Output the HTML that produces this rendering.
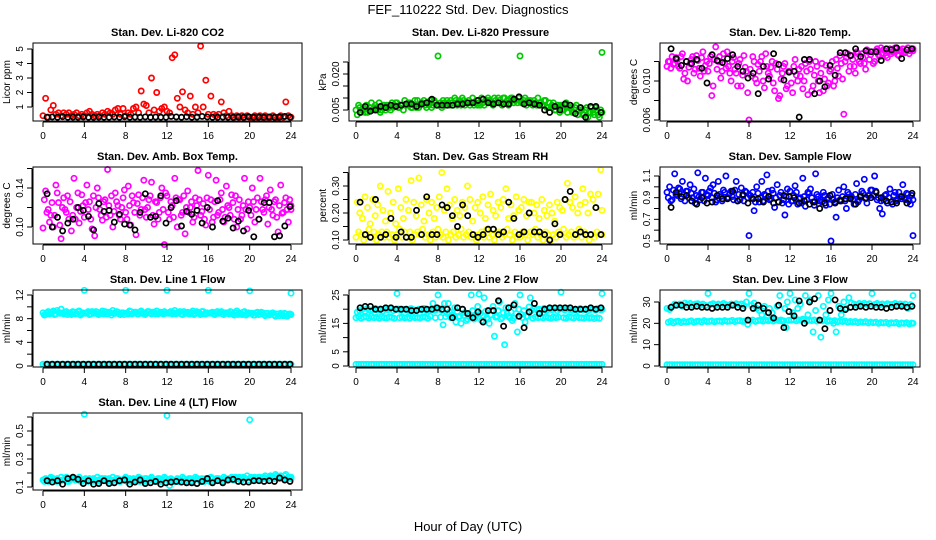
<!DOCTYPE html>
<html><head><meta charset="utf-8"><title>FEF_110222 Std. Dev. Diagnostics</title>
<style>
html,body{margin:0;padding:0;background:#fff;}
svg{display:block;font-family:"Liberation Sans",Arial,sans-serif;}
</style></head>
<body>
<svg id="chart" width="936" height="540" viewBox="0 0 936 540" xmlns="http://www.w3.org/2000/svg">
<rect x="0" y="0" width="936" height="540" fill="#fff"/>
<text x="468" y="14" font-size="13" text-anchor="middle">FEF_110222  Std. Dev. Diagnostics</text>
<text x="468" y="531" font-size="13" text-anchor="middle">Hour of Day (UTC)</text>
</svg>
<script>
// ---- data ----
const hourTicks = [0,4,8,12,16,20,24];
const co2Red = [0.4,1.6,0.3,0.8, 1.1,0.5,0.6,0.4, 0.6,0.5,0.6,0.4, 0.5,0.6,0.4,0.5, 0.4,0.6,0.7,0.5, 0.4,0.5,0.4,0.6, 0.5,0.7,0.6,0.5, 0.8,0.9,0.5,0.9, 0.4,0.6,0.5,0.9, 1.0,0.6,2.1,1.2, 1.1,0.6,3.0,0.8, 2.0,0.7,0.9,1.0, 0.7,0.6,4.4,4.6, 1.6,1.0,2.05,0.8, 0.6,1.75,0.5,1.0, 0.6,5.2,1.0,2.85, 0.5,1.75,0.5,0.4, 0.5,1.35,0.6,0.4, 0.7,0.4,0.3,0.4, 0.3,0.4,0.3,0.4, 0.3,0.3,0.4,0.3, 0.4,0.3,0.4,0.3, 0.3,0.4,0.3,0.3, 0.4,0.3,1.35,0.4, 0.3];
const co2Black = [0.3,0.32,0.3,0.33,0.3,0.31,0.3,0.32,0.3,0.3,0.31,0.3,0.3,0.32,0.3,0.33,0.3,0.31,0.3,0.32,0.3,0.31,0.3,0.3,0.35,0.32,0.3,0.33,0.3,0.31,0.35,0.32,0.3,0.3,0.31,0.3,0.3,0.32,0.3,0.33,0.3,0.31,0.3,0.32,0.3,0.31,0.35,0.3];
const presGreenA = [.005,.007,.004,.006, .007,.005,.008,.006, .006,.008,.005,.007, .007,.006,.008,.007, .008,.006,.007,.009, .007,.008,.006,.009, .009,.007,.008,.007, .008,.009,.007,.008, .0275,.008,.009,.007, .008,.009,.007,.009, .008,.007,.009,.008, .009,.008,.007,.009, .008,.010,.007,.009, .009,.008,.010,.008, .009,.007,.010,.009, .008,.010,.009,.008, .0275,.008,.010,.009, .009,.007,.008,.010, .008,.007,.009,.006, .006,.008,.005,.007, .007,.005,.008,.006, .006,.004,.007,.005, .005,.003,.006,.004, .006,.003,.005,.002, .029];
const presGreenB = [.003,.006,.005,.004, .004,.006,.005,.007, .005,.004,.007,.005, .006,.005,.006,.008, .006,.007,.005,.007, .008,.006,.007,.006, .006,.008,.009,.006, .007,.006,.009,.007, .007,.006,.008,.009, .007,.008,.010,.007, .009,.010,.007,.008, .007,.010,.008,.007, .007,.008,.009,.010, .008,.007,.009,.010, .008,.010,.008,.007, .010,.008,.009,.010, .008,.009,.007,.008, .008,.009,.007,.008, .007,.009,.006,.008, .007,.005,.007,.004, .005,.007,.004,.006, .004,.006,.003,.006, .003,.005,.002,.004, .004,.006,.003,.005, .004];
const presBlack = [.004,.0065,.0045,.005,.0065,.006,.007,.0065,.007,.0075,.0075,.0065,.0075,.008,.0095,.007,.007,.007,.007,.0075,.0075,.008,.008,.009,.0095,.008,.0075,.008,.0075,.0075,.0095,.0105,.0075,.008,.0075,.007,.005,.004,.0065,.005,.0075,.007,.0035,.006,.002,.0065,.0065,.004];
const tempMagA = [.0115,.0120,.0125,.0118, .0122,.0113,.0128,.0108, .0100,.0118,.0125,.0112, .0121,.0105,.0130,.0116, .0110,.0125,.0095,.0135, .0120,.0103,.0128,.0113, .0115,.0100,.0124,.0108, .0118,.0095,.0126,.0110, .0060,.0105,.0120,.0098, .0110,.0125,.0093,.0115, .0105,.0120,.0090,.0112, .0085,.0108,.0118,.0095, .0110,.0088,.0122,.0100, .0105,.0092,.0118,.0086, .0112,.0095,.0120,.0100, .0108,.0090,.0116,.0098, .0112,.0095,.0122,.0105, .0118,.0066,.0124,.0110, .0126,.0115,.0130,.0120, .0128,.0118,.0132,.0122, .0130,.0120,.0133,.0125, .0128,.0131,.0124,.0133, .0130,.0134,.0127,.0132, .0133,.0129,.0134,.0131, .0133];
const tempMagB = [.0120,.0113,.0117,.0124, .0115,.0125,.0102,.0120, .0114,.0122,.0108,.0126, .0113,.0124,.0110,.0120, .0118,.0085,.0122,.0112, .0125,.0110,.0118,.0130, .0108,.0120,.0112,.0095, .0122,.0106,.0114,.0088, .0112,.0125,.0102,.0117, .0120,.0100,.0128,.0108, .0114,.0098,.0118,.0082, .0102,.0115,.0092,.0110, .0098,.0115,.0106,.0112, .0115,.0100,.0110,.0120, .0090,.0106,.0115,.0088, .0118,.0102,.0095,.0110, .0120,.0100,.0113,.0126, .0102,.0120,.0128,.0115, .0122,.0108,.0128,.0118, .0124,.0112,.0130,.0127, .0118,.0131,.0127,.0134, .0132,.0126,.0130,.0128, .0131,.0133,.0126,.0130, .0130,.0132,.0128,.0133, .0131];
const tempBlack = [.0133,.0123,.0116,.0120,.0118,.0122,.0113,.0098,.0127,.0121,.0119,.0123,.0127,.0115,.0110,.0103,.0108,.0087,.0115,.0102,.0128,.0117,.0101,.0109,.0110,.0063,.0122,.0122,.0087,.0100,.0094,.0116,.0106,.0129,.0129,.0126,.0133,.0125,.0131,.0130,.0130,.0121,.0133,.0132,.0134,.0123,.0132,.0133];
const ambMagA = [.099,.137,.118,.112, .100,.143,.125,.088, .130,.115,.108,.096, .150,.120,.104,.133, .110,.143,.126,.098, .091,.140,.118,.107, .128,.159,.112,.100, .135,.122,.108,.130, .115,.142,.102,.125, .092,.133,.118,.148, .110,.128,.146,.103, .125,.115,.140,.082, .132,.108,.122,.150, .100,.128,.115,.093, .137,.120,.105,.130, .158,.112,.124,.102, .153,.128,.110,.148, .115,.135,.105,.142, .120,.133,.108,.100, .128,.112,.150,.098, .120,.140,.105,.130, .150,.118,.128,.103, .138,.112,.128,.095, .143,.115,.130,.105, .122];
const ambMagB = [.128,.115,.105,.125, .112,.135,.102,.120, .118,.132,.126,.112, .108,.135,.116,.122, .125,.118,.108,.132, .120,.130,.112,.126, .110,.122,.132,.116, .126,.112,.120,.138, .108,.122,.132,.115, .124,.112,.130,.118, .120,.132,.112,.126, .108,.130,.118,.135, .115,.126,.110,.130, .128,.112,.132,.120, .115,.126,.110,.122, .128,.116,.108,.130, .118,.105,.126,.112, .128,.118,.110,.122, .112,.125,.132,.118, .108,.122,.118,.126, .112,.126,.118,.108, .126,.115,.132,.120, .118,.126,.110,.122, .114,.125,.118,.128, .118];
const ambBlack = [.134,.100,.110,.096,.104,.108,.120,.117,.111,.097,.124,.116,.117,.105,.113,.103,.102,.097,.115,.134,.110,.111,.132,.104,.120,.127,.101,.116,.113,.117,.104,.120,.100,.127,.106,.109,.099,.106,.096,.117,.090,.108,.125,.125,.090,.091,.101,.121];
const rhYellowA = [.11,.13,.12,.10, .12,.14,.11,.13, .10,.12,.13,.11, .13,.11,.12,.10, .12,.14,.11,.13, .11,.13,.10,.12, .13,.12,.14,.11, .12,.10,.13,.11, .14,.12,.11,.13, .10,.12,.13,.11, .12,.14,.11,.12, .13,.11,.12,.10, .12,.13,.11,.14, .11,.12,.10,.13, .13,.11,.12,.14, .12,.10,.13,.11, .11,.13,.12,.10, .13,.12,.14,.11, .12,.10,.13,.12, .10,.12,.11,.13, .12,.14,.11,.12, .13,.11,.12,.14, .11,.13,.12,.10, .12,.11,.13,.12, .12];
const rhYellowB = [.24,.20,.18,.26, .22,.16,.25,.19, .23,.30,.21,.17, .28,.20,.24,.16, .29,.22,.18,.25, .21,.32,.24,.19, .33,.23,.17,.25, .20,.24,.18,.22, .26,.35,.21,.29, .23,.18,.25,.21, .19,.24,.22,.30, .25,.17,.22,.24, .20,.26,.18,.23, .27,.21,.19,.24, .22,.25,.29,.18, .23,.19,.26,.21, .22,.25,.19,.24, .24,.20,.23,.18, .25,.21,.19,.23, .20,.17,.24,.22, .21,.25,.31,.24, .22,.26,.20,.23, .29,.24,.20,.27, .25,.22,.27,.36, .21];
const rhBlack = [.24,.12,.11,.25,.11,.12,.18,.11,.13,.11,.11,.21,.12,.26,.12,.12,.23,.22,.19,.15,.23,.19,.12,.11,.12,.14,.14,.12,.13,.24,.18,.12,.13,.20,.13,.13,.12,.10,.16,.12,.25,.28,.12,.13,.12,.12,.22,.12];
const flowBlueA = [.95,1.0,.88,1.12, .92,.98,1.05,.87, .96,1.02,.90,.85, 1.13,.88,.95,1.08, .92,.99,1.02,.86, 1.05,.91,.97,1.10, .90,.96,.88,1.05, .93,.99,.87,.95, .55,.90,.78,1.0, .86,1.05,.93,1.11, .88,.97,.81,1.02, .92,.85,.74,.98, .96,.87,1.01,.84, .90,1.08,.82,.95, .98,.86,1.12,.91, .88,.95,.83,.90, .50,.88,.72,.97, .87,1.0,.80,.93, .91,.84,1.03,.88, .96,1.07,.85,.92, .97,1.10,.88,.80, .75,.92,.85,.98, .84,.95,.88,.91, 1.02,.88,.93,.84, .55];
const flowBlueB = [.90,.87,.97,.93, .99,.89,.93,.96, .90,.94,.98,.92, .91,.95,.87,.93, .96,.90,.94,.88, .93,.87,.95,.90, .94,.91,.97,.87, .88,.92,.96,.90, .92,.95,.86,.94, .90,.87,.92,.96, .89,.94,.90,.86, .95,.88,.91,.84, .87,.92,.95,.89, .85,.91,.88,.94, .90,.83,.93,.87, .86,.92,.89,.84, .93,.86,.90,.88, .91,.87,.95,.90, .88,.93,.86,.92, .94,.89,.92,.97, .92,.96,.90,.87, .88,.93,.90,.86, .92,.87,.95,.89, .90,.94,.87,.92, .88];
const flowBlack = [.81,.95,.91,.92,.87,.84,.90,.85,.86,.92,.89,.89,.96,.87,.93,.85,.89,.89,.86,.91,.85,.86,.92,.91,.90,.85,.87,.84,.86,.80,.85,.92,.85,.87,.89,.89,.84,.91,.90,.90,.95,.90,.87,.86,.85,.91,.85,.94];
const line1CyanA = [9.0,8.7,9.2,8.9, 9.3,8.8,9.1,9.6, 8.8,9.2,9.0,8.7, 9.1,8.9,9.3,8.8, 12.8,9.0,8.7,9.2, 8.9,9.1,8.8,9.3, 9.2,8.8,9.0,9.4, 8.9,9.1,8.7,9.0, 12.8,8.8,9.2,8.9, 9.1,8.8,9.3,9.0, 8.9,9.2,8.8,9.1, 9.3,8.9,9.0,9.2, 12.8,9.1,8.8,9.4, 8.9,9.2,8.7,9.0, 9.1,8.8,9.3,8.9, 9.0,8.7,9.2,8.8, 12.8,9.0,8.8,9.1, 8.9,9.2,8.7,9.0, 8.8,9.1,8.6,9.3, 9.0,8.7,9.2,8.8, 12.7,8.9,8.6,9.1, 8.8,9.0,8.5,8.9, 8.7,9.0,8.4,8.8, 8.9,8.5,8.8,8.6, 12.3];
const line1CyanB = [8.6,9.0,8.8,9.1, 8.7,9.4,8.9,9.0, 9.1,8.7,8.9,9.2, 8.8,9.2,8.6,9.0, 8.9,9.2,8.8,9.0, 9.2,8.7,9.0,8.8, 8.8,9.1,8.6,8.9, 9.2,8.8,9.0,8.7, 9.0,9.3,8.8,9.1, 8.8,9.1,8.9,8.7, 9.2,8.9,9.1,8.8, 8.8,9.1,8.8,8.9, 8.9,9.2,9.0,8.8, 9.1,8.8,9.2,8.9, 8.8,9.0,8.7,9.2, 8.9,9.2,8.8,9.0, 8.9,9.1,8.7,9.2, 9.1,8.8,9.0,8.9, 9.2,8.8,9.0,8.7, 8.8,9.1,8.6,9.0, 8.9,8.6,9.0,8.7, 9.1,8.7,8.9,8.6, 8.9,8.6,8.8,8.5, 8.7,8.9,8.4,8.8, 8.7];
const line1CyanLow = [.3,.3,.3,.3, .3,.3,.3,.3, .3,.3,.3,.3, .3,.3,.3,.3, .3,.3,.3,.3, .3,.3,.3,.3, .3,.3,.3,.3, .3,.3,.3,.3, .3,.3,.3,.3, .3,.3,.3,.3, .3,.3,.3,.3, .3,.3,.3,.3, .3,.3,.3,.3, .3,.3,.3,.3, .3,.3,.3,.3, .3,.3,.3,.3, .3,.3,.3,.3, .3,.3,.3,.3, .3,.3,.3,.3, .3,.3,.3,.3, .3,.3,.3,.3, .3,.3,.3,.3, .3,.3,.3,.3, .3,.3,.3,.3, .3];
const line1Black = [.3,.3,.3,.3,.3,.3,.3,.3,.3,.3,.3,.3,.3,.3,.3,.3,.3,.3,.3,.3,.3,.3,.3,.3,.3,.3,.3,.3,.3,.3,.3,.3,.3,.3,.3,.3,.3,.3,.3,.3,.3,.3,.3,.3,.3,.3,.3,.3];
const line2CyanA = [17,17.5,16.8,17.2, 17.3,16.9,17.5,17, 17.2,16.8,17.4,17, 16.9,17.3,17.1,16.8, 25.5,17,17.3,16.9, 17.2,16.8,17.4,17, 17.1,16.9,17.3,17.2, 16.8,17.5,22,17, 25,17.2,14.5,17.4, 22,17,17.5,15.5, 17.3,15,17.8,16, 17.5,25,16.5,18, 25.3,16,24,17, 15,19.5,10.5,17.5, 22.5,17,7.5,18.5, 17,16,22,12, 25,17,15.5,17.5, 24,16.8,17.3,17, 17.2,16.9,17.4,17, 16.8,17.3,17,17.2, 26,17,16.8,17.3, 17.1,16.9,17.4,17, 17,16.8,17.2,16.9, 17.1,16.7,17,16.8, 25.5];
const line2CyanB = [19,19.5,20,19.3, 20.2,19.6,19.8,20.3, 19.7,20.1,19.4,20, 19.8,20.2,19.5,19.9, 20.1,19.6,20,19.8, 19.5,20.2,19.8,19.6, 20,19.7,20.3,19.5, 19.8,20.1,19.6,19.9, 20.2,19.5,22,18.5, 19,18,20.5,19.2, 17.5,20,18.8,16.5, 18,19.5,17,21, 18.5,17.8,19.2,16.5, 18,21,17.2,19.5, 16.5,18.8,20.5,17.5, 19,16.8,18.5,20, 18.2,19.5,17.5,20.8, 19.5,20.2,19.8,20, 19.7,20.3,19.6,20.1, 19.8,20.2,19.5,20, 20.1,19.7,20.3,19.8, 19.6,20,19.7,20.2, 19.8,20.1,19.5,19.9, 20,19.6,20.2,19.8, 19.9];
const line2CyanLow = [.6,.6,.6,.6, .6,.6,.6,.6, .6,.6,.6,.6, .6,.6,.6,.6, .6,.6,.6,.6, .6,.6,.6,.6, .6,.6,.6,.6, .6,.6,.6,.6, .6,.6,.6,.6, .6,.6,.6,.6, .6,.6,.6,.6, .6,.6,.6,.6, .6,.6,.6,.6, .6,.6,.6,.6, .6,.6,.6,.6, .6,.6,.6,.6, .6,.6,.6,.6, .6,.6,.6,.6, .6,.6,.6,.6, .6,.6,.6,.6, .6,.6,.6,.6, .6,.6,.6,.6, .6,.6,.6,.6, .6,.6,.6,.6, .6];
const line2Black = [20.5,21,21,20,20,20.5,20.5,20,20,20,19.5,19.5,20,20,20,20.5,20,20,17,20.5,20,18.5,17,19,15.5,19.5,19.5,23,14,20.5,21.5,17.5,13.5,19,22,18.5,20,20.5,20.5,20.5,20.5,20.5,20,20,20,20.5,20,20.5];
const line3CyanA = [27,26.5,28,29, 28.5,29,28,29.5, 28.8,29.3,28.5,29, 29.2,28.6,29,28.4, 34,28.8,29.2,28.5, 29,28.6,29.3,28.8, 28.5,29,28.7,29.2, 28.8,29.1,28.4,30, 34,28.5,29.5,27, 26,24,28,23, 27,25,22,28, 33,21,27,30, 34,25,31,27, 29,22,33,24, 31,16,26,33, 13.5,28,24,31, 34,20,16,28, 24,30,27,32, 29.5,29,28.6,29.3, 28.8,29.4,28.9,29.2, 34,28.8,29.3,28.7, 29.1,28.6,29.2,28.8, 28.9,29.3,28.5,29.1, 28.7,29,27,28.8, 33];
const line3CyanB = [20.5,21,20.2,20.8, 21,20.4,20.9,20.6, 20.8,21.2,20.5,20.9, 21,20.6,21.3,20.8, 20.9,21.2,20.7,21, 21.1,20.8,21.3,20.9, 21,21.4,20.8,21.2, 21.3,20.9,21.1,19.5, 21.2,21.5,20.9,21.3, 21.4,21,21.6,21.2, 21.5,21.1,21.7,21.3, 21.6,21.2,18,21.4, 21.5,21.8,21.2,21.6, 21.4,21.7,21.1,21.5, 21.3,21.6,21,21.4, 21.2,21.5,20.9,21.3, 21,21.3,20.7,21.1, 20.8,21.1,20.5,20.9, 20.6,20.9,20.3,20.7, 20.5,20.8,20.2,20.6, 20.3,20.6,20,20.4, 20.2,20.5,19.9,20.3, 20.1,20.4,19.8,20.2, 20,20.3,19.7,20.1, 20];
const line3CyanLow = [.6,.6,.6,.6, .6,.6,.6,.6, .6,.6,.6,.6, .6,.6,.6,.6, .6,.6,.6,.6, .6,.6,.6,.6, .6,.6,.6,.6, .6,.6,.6,.6, .6,.6,.6,.6, .6,.6,.6,.6, .6,.6,.6,.6, .6,.6,.6,.6, .6,.6,.6,.6, .6,.6,.6,.6, .6,.6,.6,.6, .6,.6,.6,.6, .6,.6,.6,.6, .6,.6,.6,.6, .6,.6,.6,.6, .6,.6,.6,.6, .6,.6,.6,.6, .6,.6,.6,.6, .6,.6,.6,.6, .6,.6,.6,.6, .6];
const line3Black = [27.5,28.5,28.5,27.5,27.5,28,27.5,27.5,27,27.5,27.5,27.5,28.5,27.5,27,21.5,27,28.5,27,25,22.5,28.5,18,25.5,23.5,30.5,20,30,31.5,21.5,17.5,26,31,27,26.5,27.5,27.5,28,27.5,28,27.5,27.5,27,27.5,28,28,27.5,28];
const line4CyanA = [.15,.16,.14,.17, .16,.14,.15,.17, .15,.17,.14,.16, .16,.15,.17,.14, .62,.15,.16,.14, .15,.17,.14,.16, .16,.14,.15,.17, .15,.16,.14,.15, .17,.15,.14,.16, .15,.17,.16,.14, .16,.15,.17,.14, .15,.16,.14,.17, .61,.11,.15,.14, .16,.15,.17,.14, .15,.16,.14,.17, .16,.14,.15,.16, .15,.17,.14,.16, .16,.15,.17,.15, .16,.17,.15,.16, .17,.15,.16,.18, .58,.16,.17,.15, .17,.16,.18,.16, .18,.17,.19,.17, .18,.16,.19,.17, .17];
const line4CyanB = [.14,.15,.16,.15, .15,.16,.14,.15, .16,.14,.15,.16, .15,.16,.14,.15, .16,.14,.15,.16, .14,.15,.16,.15, .15,.16,.14,.15, .16,.14,.15,.16, .14,.16,.15,.14, .16,.14,.15,.16, .14,.16,.15,.15, .16,.14,.15,.16, .15,.16,.14,.15, .14,.15,.16,.15, .16,.14,.15,.16, .15,.16,.14,.15, .14,.16,.15,.16, .15,.14,.16,.15, .16,.15,.17,.16, .15,.17,.16,.15, .17,.16,.15,.17, .16,.17,.16,.17, .17,.16,.18,.16, .17,.18,.16,.17, .16];
const line4Black = [.145,.135,.145,.12,.16,.17,.155,.125,.145,.12,.125,.145,.125,.13,.145,.15,.12,.135,.15,.125,.13,.14,.12,.13,.135,.14,.135,.13,.13,.125,.14,.16,.13,.145,.13,.15,.155,.14,.135,.135,.145,.145,.14,.145,.14,.165,.15,.14];

const p2Ticks = [0.005,0.010,0.015,0.020,0.025];
const p3Ticks = [0.006,0.008,0.010,0.012];
const p4Ticks = [0.10,0.12,0.14,0.16];
const p5Ticks = [0.10,0.15,0.20,0.25,0.30,0.35];
const p6Ticks = [0.5,0.6,0.7,0.8,0.9,1.0,1.1];
const p7Ticks = [0,2,4,6,8,10,12];
const p8Ticks = [0,5,10,15,20,25];
const p9Ticks = [0,10,20,30];
const p10Ticks = [0.1,0.2,0.3,0.4,0.5,0.6];

// ---- layout ----
const svg = document.getElementById('chart');
const NS = 'http://www.w3.org/2000/svg';
const cols = [{l:33,r:302,x0:43,x24:291},{l:349,r:612,x0:356,x24:602},{l:660,r:920,x0:667,x24:913}];
const rows = [{t:43,b:121},{t:167,b:244},{t:290,b:367},{t:413,b:490}];
function mk(tag, attrs, parent){
  const e = document.createElementNS(NS, tag);
  for (const k in attrs) e.setAttribute(k, attrs[k]);
  (parent||svg).appendChild(e);
  return e;
}
const panels = [
  {name:'co2', title:'Stan. Dev. Li-820 CO2', ylab:'Licor ppm', c:0, r:0, ref:[1,107,5,49], ticks:[1,2,3,4,5], labels:['1','2','3','4','5'], color:'#ff0000', series:[co2Red], black:co2Black},
  {name:'pressure', title:'Stan. Dev. Li-820 Pressure', ylab:'kPa', c:1, r:0, ref:[0.005,110,0.020,74], ticks:p2Ticks, labels:['0.005','','','0.020',''], color:'#00c800', series:[presGreenA,presGreenB], black:presBlack},
  {name:'li820-temp', title:'Stan. Dev. Li-820 Temp.', ylab:'degrees C', c:2, r:0, ref:[0.006,120,0.010,81], ticks:p3Ticks, labels:['0.006','','0.010',''], color:'#ff00ff', series:[tempMagA,tempMagB], black:tempBlack},
  {name:'amb-box-temp', title:'Stan. Dev. Amb. Box Temp.', ylab:'degrees C', c:0, r:1, ref:[0.10,227,0.14,188], ticks:p4Ticks, labels:['0.10','','0.14',''], color:'#ff00ff', series:[ambMagA,ambMagB], black:ambBlack},
  {name:'gas-stream-rh', title:'Stan. Dev. Gas Stream RH', ylab:'percent', c:1, r:1, ref:[0.10,240,0.30,186], ticks:p5Ticks, labels:['0.10','','0.20','','0.30',''], color:'#ffff00', series:[rhYellowA,rhYellowB], black:rhBlack},
  {name:'sample-flow', title:'Stan. Dev. Sample Flow', ylab:'ml/min', c:2, r:1, ref:[0.5,241,1.1,176], ticks:p6Ticks, labels:['0.5','','0.7','','0.9','','1.1'], color:'#0000ff', series:[flowBlueA,flowBlueB], black:flowBlack},
  {name:'line1-flow', title:'Stan. Dev. Line 1 Flow', ylab:'ml/min', c:0, r:2, ref:[0,366,12,295], ticks:p7Ticks, labels:['0','','4','','8','','12'], color:'#00ffff', series:[line1CyanA,line1CyanB,line1CyanLow], black:line1Black},
  {name:'line2-flow', title:'Stan. Dev. Line 2 Flow', ylab:'ml/min', c:1, r:2, ref:[0,366,25,295], ticks:p8Ticks, labels:['0','5','','15','','25'], color:'#00ffff', series:[line2CyanA,line2CyanB,line2CyanLow], black:line2Black},
  {name:'line3-flow', title:'Stan. Dev. Line 3 Flow', ylab:'ml/min', c:2, r:2, ref:[0,366,30,302], ticks:p9Ticks, labels:['0','10','20','30'], color:'#00ffff', series:[line3CyanA,line3CyanB,line3CyanLow], black:line3Black},
  {name:'line4-flow', title:'Stan. Dev. Line 4 (LT) Flow', ylab:'ml/min', c:0, r:3, ref:[0.1,487,0.5,431], ticks:p10Ticks, labels:['0.1','','0.3','','0.5',''], color:'#00ffff', series:[line4CyanA,line4CyanB], black:line4Black}
];

panels.forEach(p => {
  const C = cols[p.c], R = rows[p.r];
  const xs = h => C.x0 + (C.x24 - C.x0) * h / 24;
  const ys = v => p.ref[1] + (v - p.ref[0]) * (p.ref[3] - p.ref[1]) / (p.ref[2] - p.ref[0]);
  const g = mk('g', {});
  
  
  const t = mk('text', {x:(C.l+C.r)/2, y:R.t-7, 'font-size':11, 'font-weight':'bold', 'text-anchor':'middle'}, g);
  t.textContent = p.title;
  
  
  const yl = mk('text', {x:0, y:0, 'font-size':10, 'text-anchor':'middle', transform:'translate(' + (C.l-23) + ',' + ((R.t+R.b)/2) + ') rotate(-90)'}, g);
  yl.textContent = p.ylab;
  
  
  const pg = mk('g', {fill:'none', 'stroke-width':1.7}, g);
  
  
  p.series.forEach((arr, si) => {
    arr.forEach((v, i) => {
      const h = i * 24 / (arr.length - 1) + (si === 1 ? 0.125 : 0);
      const c = mk('circle', {cx:xs(Math.min(h,24)).toFixed(1), cy:ys(v).toFixed(1), r:2.6, stroke:p.color}, pg);
      
      
    });
  });
  p.black.forEach((v, i) => {
    const h = (i + 1) * 24 / p.black.length - 0.1;
    const c = mk('circle', {cx:xs(h).toFixed(1), cy:ys(v).toFixed(1), r:2.6, stroke:'#000'}, pg);
    
    
  });
  const box = mk('rect', {x:C.l, y:R.t, width:C.r-C.l, height:R.b-R.t, fill:'none', stroke:'#000', 'stroke-width':1}, g);
  
  
  const xa = mk('g', {}, g);
  
  
  mk('line', {x1:xs(0), x2:xs(24), y1:R.b+1, y2:R.b+1, stroke:'#000'}, xa);
  hourTicks.forEach(h => {
    mk('line', {x1:xs(h), x2:xs(h), y1:R.b+1, y2:R.b+6, stroke:'#000'}, xa);
    const tl = mk('text', {x:xs(h), y:R.b+18, 'font-size':10, 'text-anchor':'middle'}, xa);
    tl.textContent = h;
    
    
  });
  const ya = mk('g', {}, g);
  
  
  mk('line', {x1:C.l-1, x2:C.l-1, y1:ys(p.ticks[0]), y2:ys(p.ticks[p.ticks.length-1]), stroke:'#000'}, ya);
  p.ticks.forEach((v, i) => {
    const y = ys(v);
    mk('line', {x1:C.l-6, x2:C.l-1, y1:y, y2:y, stroke:'#000'}, ya);
    if (p.labels[i]) {
      const tl = mk('text', {x:0, y:0, 'font-size':10, 'text-anchor':'middle', transform:'translate(' + (C.l-10) + ',' + y + ') rotate(-90)'}, ya);
      tl.textContent = p.labels[i];
      
      
    }
  });
});
</script>
</body></html>
